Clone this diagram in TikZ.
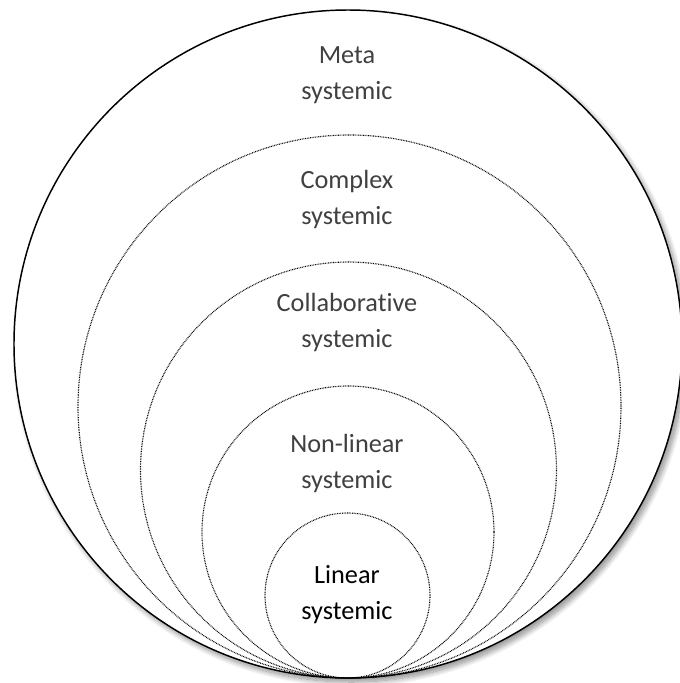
\documentclass[tikz,border=0pt]{standalone}
\usepackage{fontspec}
\setmainfont{Carlito}[Ligatures=NoCommon]
\usetikzlibrary{shadows.blur}
\definecolor{labelgray}{HTML}{404040}
\tikzset{
  outerring/.style={draw=black, line width=1.1pt, fill=white,
    blur shadow={shadow xshift=2.5pt, shadow yshift=-3pt, shadow blur radius=4pt, shadow blur steps=12, shadow opacity=45}},
  innerring/.style={draw=black, line width=0.85pt, dash pattern=on 0.6pt off 0.65pt},
  levellabel/.style={align=center, font=\fontsize{19.7}{27}\selectfont, text=labelgray, inner sep=0pt},
}
\begin{document}
\begin{tikzpicture}[x=0.75pt, y=-0.75pt]
  \useasboundingbox (0,0) rectangle (680,683);
  \begin{scope}
    \clip (0,0) rectangle (680,683);
    % outer level: solid ring with soft shadow
    \path[outerring] (348,344) circle[radius=334];
  \end{scope}
  % nested levels, all touching the bottom of the outer ring
  \draw[innerring] (349.5,406.5) circle[radius=271.5];
  \draw[innerring] (348.5,470) circle[radius=208];
  \draw[innerring] (348,532) circle[radius=146];
  \draw[innerring] (347.5,595.5) circle[radius=82.5];
  % level names
  \node[levellabel] (meta) at (347,75) {Meta\\systemic};
  \node[levellabel] (complex) at (347,199) {Complex\\systemic};
  \node[levellabel] (collab) at (347,322) {Collaborative\\systemic};
  \node[levellabel] (nonlin) at (347,463) {Non-linear\\systemic};
  \node[levellabel, text=black] (linear) at (347,595) {Linear\\systemic};
\end{tikzpicture}
\end{document}
